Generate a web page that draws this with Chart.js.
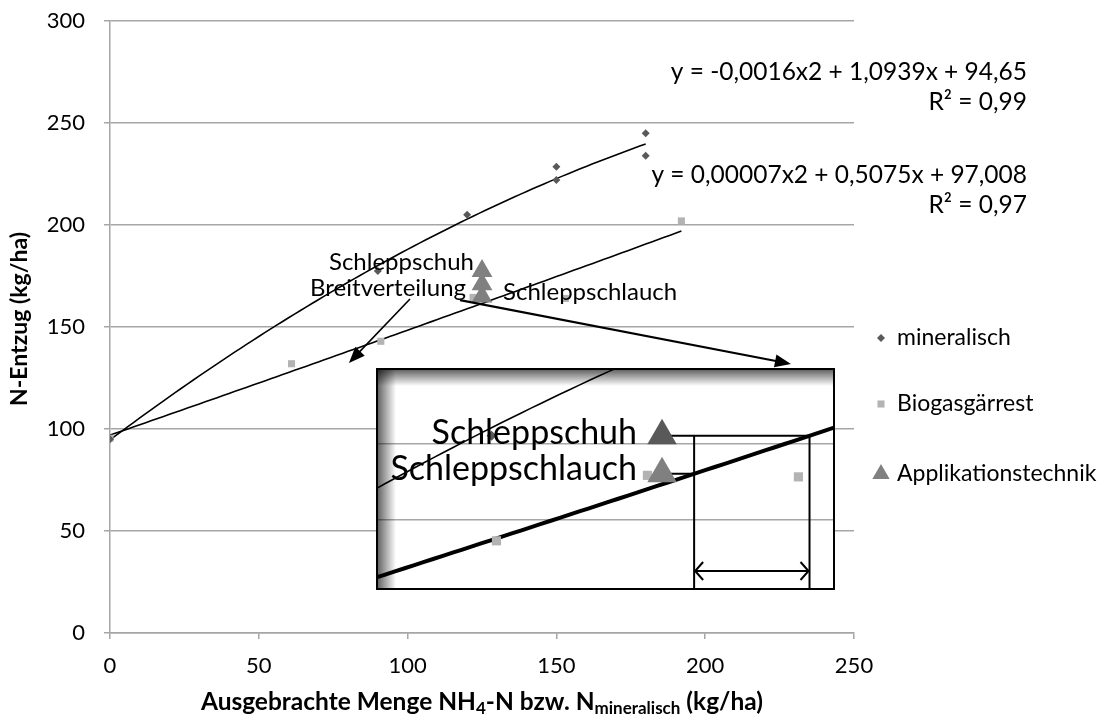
<!DOCTYPE html>
<html>
<head>
<meta charset="utf-8">
<script src="https://cdn.jsdelivr.net/npm/chart.js@4.4.1/dist/chart.umd.min.js"></script>
<style>
	html, body { margin: 0; padding: 0; background: #fff; }
	#wrap { position: relative; width: 1114px; height: 722px; }
	#main { position: absolute; left: 0; top: 0; }
	#inset {
		position: absolute; left: 376px; top: 368px; width: 459px; height: 222px;
		box-sizing: border-box; border: 2px solid #000; background: #fff;
	}
	#insetChart { display: block; }
</style>
</head>
<body>
<div id="wrap">
	<canvas id="main" width="1114" height="722"></canvas>
	<div id="inset"><canvas id="insetChart" width="455" height="218"></canvas></div>
</div>
<script>
// N-Entzug je Düngervariante
const mineralX = [0, 90, 120, 150, 150, 180, 180];
const mineralY = [95, 177.5, 205, 228.5, 222, 245, 234];
const biogasX = [0, 61, 91, 122, 153, 192];
const biogasY = [95.5, 132, 143, 164.5, 164, 202];
const techNames = ["Schleppschuh", "Breitverteilung", "Schleppschlauch"];
const techX = [125, 125, 125];
const techY = [177.5, 171, 165];

// quadratische Trendlinien: a, b, c
const mineralFit = [-0.0016, 1.0939, 94.65];
const biogasFit = [0.00007, 0.5075, 97.008];
const mineralFitText = ["y = -0,0016x2 + 1,0939x + 94,65", "R² = 0,99"];
const biogasFitText = ["y = 0,00007x2 + 0,5075x + 97,008", "R² = 0,97"];

const xTicks = [0, 50, 100, 150, 200, 250];
const yTicks = [0, 50, 100, 150, 200, 250, 300];
const legendNames = ["mineralisch", "Biogasgärrest", "Applikationstechnik"];
const insetNames = ["Schleppschuh", "Schleppschlauch"];

const FONT = "Lato, 'Open Sans', sans-serif";
const GRID = "#a6a6a6";
const DARK = "#595959";
const LIGHT = "#b3b3b3";
const TRI = "#808080";

function zip(xs, ys) {
	return xs.map((x, i) => ({ x, y: ys[i] }));
}

function fitCurve(coef, xMax, step) {
	const pts = [];
	for (let x = 0; x <= xMax; x += step) {
		pts.push({ x, y: coef[0] * x * x + coef[1] * x + coef[2] });
	}
	return pts;
}

// x where the fitted curve reaches a given N-Entzug
function solveFit(coef, yVal) {
	const [a, b, c] = coef;
	return (-b + Math.sqrt(b * b - 4 * a * (c - yVal))) / (2 * a);
}

const mineralCurve = fitCurve(mineralFit, Math.max(...mineralX), 2);
const biogasCurve = fitCurve(biogasFit, Math.max(...biogasX), 2);

function arrowHead(ctx, fx, fy, tx, ty, len, half) {
	const ang = Math.atan2(ty - fy, tx - fx);
	const bx = tx - len * Math.cos(ang);
	const by = ty - len * Math.sin(ang);
	ctx.beginPath();
	ctx.moveTo(tx, ty);
	ctx.lineTo(bx + half * Math.sin(ang), by - half * Math.cos(ang));
	ctx.lineTo(bx - half * Math.sin(ang), by + half * Math.cos(ang));
	ctx.closePath();
	ctx.fill();
}

function line(ctx, x1, y1, x2, y2) {
	ctx.beginPath();
	ctx.moveTo(x1, y1);
	ctx.lineTo(x2, y2);
	ctx.stroke();
}

// label placement next to the triangles (pixel offsets)
const techLabels = {
	Schleppschuh: { dx: -8, dy: -9, align: "right" },
	Breitverteilung: { dx: -16, dy: 4, align: "right" },
	Schleppschlauch: { dx: 21, dy: -4, align: "left" },
};

// arrows in data units
const arrows = [
	{ from: [100.8, 163.7], to: [80.3, 132.4], width: 1.6 },
	{ from: [117.6, 163.2], to: [228.8, 131.9], width: 2.2 },
];

const mainDatasets = [
	{
		label: "Applikationstechnik",
		data: zip(techX, techY),
		pointStyle: "triangle",
		pointRadius: 12,
		pointBackgroundColor: TRI,
		pointBorderWidth: 0,
	},
	{
		label: "mineralisch",
		data: zip(mineralX, mineralY),
		pointStyle: "rectRot",
		pointRadius: 4,
		pointBackgroundColor: DARK,
		pointBorderWidth: 0,
	},
	{
		label: "Biogasgärrest",
		data: zip(biogasX, biogasY),
		pointStyle: "rect",
		pointRadius: 5,
		pointBackgroundColor: LIGHT,
		pointBorderWidth: 0,
	},
	{
		label: "trend mineralisch",
		data: mineralCurve,
		showLine: true,
		pointRadius: 0,
		borderColor: "#000",
		borderWidth: 1.6,
	},
	{
		label: "trend Biogas",
		data: biogasCurve,
		showLine: true,
		pointRadius: 0,
		borderColor: "#000",
		borderWidth: 1.6,
	},
];

const mainOverlay = {
	id: "mainOverlay",
	afterDatasetsDraw(chart) {
		const { ctx, chartArea: area, scales } = chart;
		const sx = scales.x;
		const sy = scales.y;
		ctx.save();
		ctx.fillStyle = "#000";
		ctx.textBaseline = "middle";

		// technique labels
		ctx.font = `24px ${FONT}`;
		techNames.forEach((name, i) => {
			const spot = techLabels[name];
			ctx.textAlign = spot.align;
			ctx.fillText(name, sx.getPixelForValue(techX[i]) + spot.dx, sy.getPixelForValue(techY[i]) + spot.dy);
		});

		// arrows
		ctx.strokeStyle = "#000";
		arrows.forEach((a) => {
			const fx = sx.getPixelForValue(a.from[0]);
			const fy = sy.getPixelForValue(a.from[1]);
			const tx = sx.getPixelForValue(a.to[0]);
			const ty = sy.getPixelForValue(a.to[1]);
			ctx.lineWidth = a.width;
			const ang = Math.atan2(ty - fy, tx - fx);
			line(ctx, fx, fy, tx - 10 * Math.cos(ang), ty - 10 * Math.sin(ang));
			arrowHead(ctx, fx, fy, tx, ty, 16, 6.5);
		});

		// trend equations
		ctx.textAlign = "right";
		ctx.font = `24.5px ${FONT}`;
		const eqRight = area.right + 173;
		[[mineralFitText, 275], [biogasFitText, 224.5]].forEach(([rows, yVal]) => {
			const y0 = sy.getPixelForValue(yVal);
			rows.forEach((t, k) => ctx.fillText(t, eqRight, y0 + k * 30));
		});

		// legend
		const entries = legendNames.map((n) => chart.data.datasets.find((d) => d.label === n));
		ctx.textAlign = "left";
		ctx.font = `23px ${FONT}`;
		const legY = [338, 404, 474];
		entries.forEach((d, i) => {
			ctx.fillStyle = d.pointBackgroundColor;
			ctx.beginPath();
			Chart.helpers.drawPoint(ctx, {
				pointStyle: d.pointStyle,
				radius: Math.min(d.pointRadius, 10),
				rotation: 0,
				borderWidth: 0,
			}, area.right + 27, legY[i]);
			ctx.fillStyle = "#000";
			ctx.fillText(d.label, area.right + 43, legY[i]);
		});

		// axis titles
		ctx.font = `bold 23px ${FONT}`;
		ctx.textAlign = "center";
		ctx.save();
		ctx.translate(20, (area.top + area.bottom) / 2 - 8);
		ctx.rotate(-Math.PI / 2);
		ctx.fillText("N-Entzug (kg/ha)", 0, 0);
		ctx.restore();

		const runs = [
			["Ausgebrachte Menge NH", false],
			["4", true],
			["-N bzw. N", false],
			["mineralisch", true],
			[" (kg/ha)", false],
		];
		const bigFont = `bold 24.5px ${FONT}`;
		const subFont = `bold 17px ${FONT}`;
		let total = 0;
		runs.forEach(([t, sub]) => {
			ctx.font = sub ? subFont : bigFont;
			total += ctx.measureText(t).width;
		});
		let cx = (area.left + area.right) / 2 - total / 2;
		const ty = 702;
		ctx.textAlign = "left";
		runs.forEach(([t, sub]) => {
			ctx.font = sub ? subFont : bigFont;
			ctx.fillText(t, cx, sub ? ty + 7 : ty);
			cx += ctx.measureText(t).width;
		});
		ctx.restore();
	},
};

new Chart(document.getElementById("main"), {
	type: "scatter",
	data: { datasets: mainDatasets },
	options: {
		responsive: false,
		animation: false,
		layout: { autoPadding: false, padding: { top: 21, right: 260, bottom: 0, left: 0 } },
		scales: {
			x: {
				type: "linear",
				min: 0,
				max: 250,
				afterBuildTicks: (s) => { s.ticks = xTicks.map((v) => ({ value: v })); },
				afterFit: (s) => { s.height = 89; },
				ticks: { color: "#000", padding: 14, font: { family: FONT, size: 22 } },
				grid: { drawOnChartArea: false, tickLength: 6, color: GRID, lineWidth: 1.5 },
				border: { color: GRID, width: 1.5 },
			},
			y: {
				type: "linear",
				min: 0,
				max: 300,
				afterBuildTicks: (s) => { s.ticks = yTicks.map((v) => ({ value: v })); },
				// fixed axis box; the outer layout padding decides the top edge
				afterFit: (s) => {
					s.width = 110;
					s.paddingTop = 0;
					s.paddingBottom = 0;
				},
				ticks: { color: "#000", padding: 19, font: { family: FONT, size: 22 } },
				grid: { tickLength: 6, color: GRID, lineWidth: 1.5 },
				border: { color: GRID, width: 1.5 },
			},
		},
		plugins: { legend: { display: false }, tooltip: { enabled: false } },
	},
	plugins: [mainOverlay],
});

// Ausschnittvergrößerung um die Applikationstechniken
const insetShades = { Schleppschuh: DARK, Schleppschlauch: TRI };
const insetTech = insetNames.map((n) => techNames.indexOf(n));

const insetOverlay = {
	id: "insetOverlay",
	beforeDatasetsDraw(chart) {
		const { ctx, chartArea: a, scales } = chart;
		const sx = scales.x;
		const sy = scales.y;
		ctx.save();

		// inner shadow along left and top edge
		let g = ctx.createLinearGradient(a.left, 0, a.left + 18, 0);
		g.addColorStop(0, "rgba(0,0,0,0.6)");
		g.addColorStop(1, "rgba(0,0,0,0)");
		ctx.fillStyle = g;
		ctx.fillRect(a.left, a.top, 18, a.bottom - a.top);
		g = ctx.createLinearGradient(0, a.top, 0, a.top + 16);
		g.addColorStop(0, "rgba(0,0,0,0.6)");
		g.addColorStop(1, "rgba(0,0,0,0)");
		ctx.fillStyle = g;
		ctx.fillRect(a.left, a.top, a.right - a.left, 16);

		// equivalent mineral amounts on the digestate curve
		ctx.strokeStyle = "#000";
		ctx.lineWidth = 2;
		const levels = insetTech.map((i) => techY[i]);
		const hits = levels.map((v) => sx.getPixelForValue(solveFit(biogasFit, v)));
		insetTech.forEach((ti, k) => {
			const py = sy.getPixelForValue(techY[ti]);
			line(ctx, sx.getPixelForValue(techX[ti]), py, hits[k], py);
		});
		const topY = sy.getPixelForValue(Math.max(...levels));
		hits.forEach((hx) => line(ctx, hx, topY, hx, a.bottom));

		const ay = a.bottom - 17;
		const l = Math.min(...hits);
		const r = Math.max(...hits);
		line(ctx, l, ay, r, ay);
		ctx.beginPath();
		ctx.moveTo(l + 9, ay - 9);
		ctx.lineTo(l + 1, ay);
		ctx.lineTo(l + 9, ay + 9);
		ctx.moveTo(r - 9, ay - 9);
		ctx.lineTo(r - 1, ay);
		ctx.lineTo(r - 9, ay + 9);
		ctx.stroke();
		ctx.restore();
	},
	afterDatasetsDraw(chart) {
		const { ctx, scales } = chart;
		ctx.save();
		ctx.fillStyle = "#000";
		ctx.font = `34px ${FONT}`;
		ctx.textAlign = "right";
		ctx.textBaseline = "middle";
		insetTech.forEach((ti, k) => {
			const px = scales.x.getPixelForValue(techX[ti]);
			const py = scales.y.getPixelForValue(techY[ti]);
			ctx.fillText(techNames[ti], px - 25, py - (k === 0 ? 3 : 5));
		});
		ctx.restore();
	},
};

new Chart(document.getElementById("insetChart"), {
	type: "scatter",
	data: {
		datasets: [
			{
				label: "Applikationstechnik",
				data: insetTech.map((i) => ({ x: techX[i], y: techY[i] })),
				pointStyle: "triangle",
				pointRadius: 17,
				pointBackgroundColor: insetNames.map((n) => insetShades[n]),
				pointBorderWidth: 0,
				clip: 0,
			},
			{
				label: "mineralisch",
				data: zip(mineralX, mineralY),
				pointStyle: "rectRot",
				pointRadius: 5,
				pointBackgroundColor: DARK,
				pointBorderWidth: 0,
				clip: 0,
			},
			{
				label: "Biogasgärrest",
				data: zip(biogasX, biogasY),
				pointStyle: "rect",
				pointRadius: 6.5,
				pointBackgroundColor: LIGHT,
				pointBorderWidth: 0,
				clip: 0,
			},
			{
				data: mineralCurve,
				showLine: true,
				pointRadius: 0,
				borderColor: "#000",
				borderWidth: 1.6,
				clip: 0,
			},
			{
				data: biogasCurve,
				showLine: true,
				pointRadius: 0,
				borderColor: "#000",
				borderWidth: 4,
				clip: 0,
			},
		],
	},
	options: {
		responsive: false,
		animation: false,
		layout: { autoPadding: false, padding: 0 },
		scales: {
			x: {
				type: "linear",
				min: 66.68,
				max: 160.1,
				display: false,
			},
			y: {
				type: "linear",
				min: 127.5,
				max: 199.1,
				afterFit: (s) => { s.width = 0; },
				ticks: { display: false, stepSize: 25 },
				grid: {
					drawTicks: false,
					lineWidth: 1.5,
					color: (c) => (c.tick && c.tick.value % 25 === 0 ? GRID : "rgba(0,0,0,0)"),
				},
				border: { display: false },
			},
		},
		plugins: { legend: { display: false }, tooltip: { enabled: false } },
	},
	plugins: [insetOverlay],
});
</script>
</body>
</html>
